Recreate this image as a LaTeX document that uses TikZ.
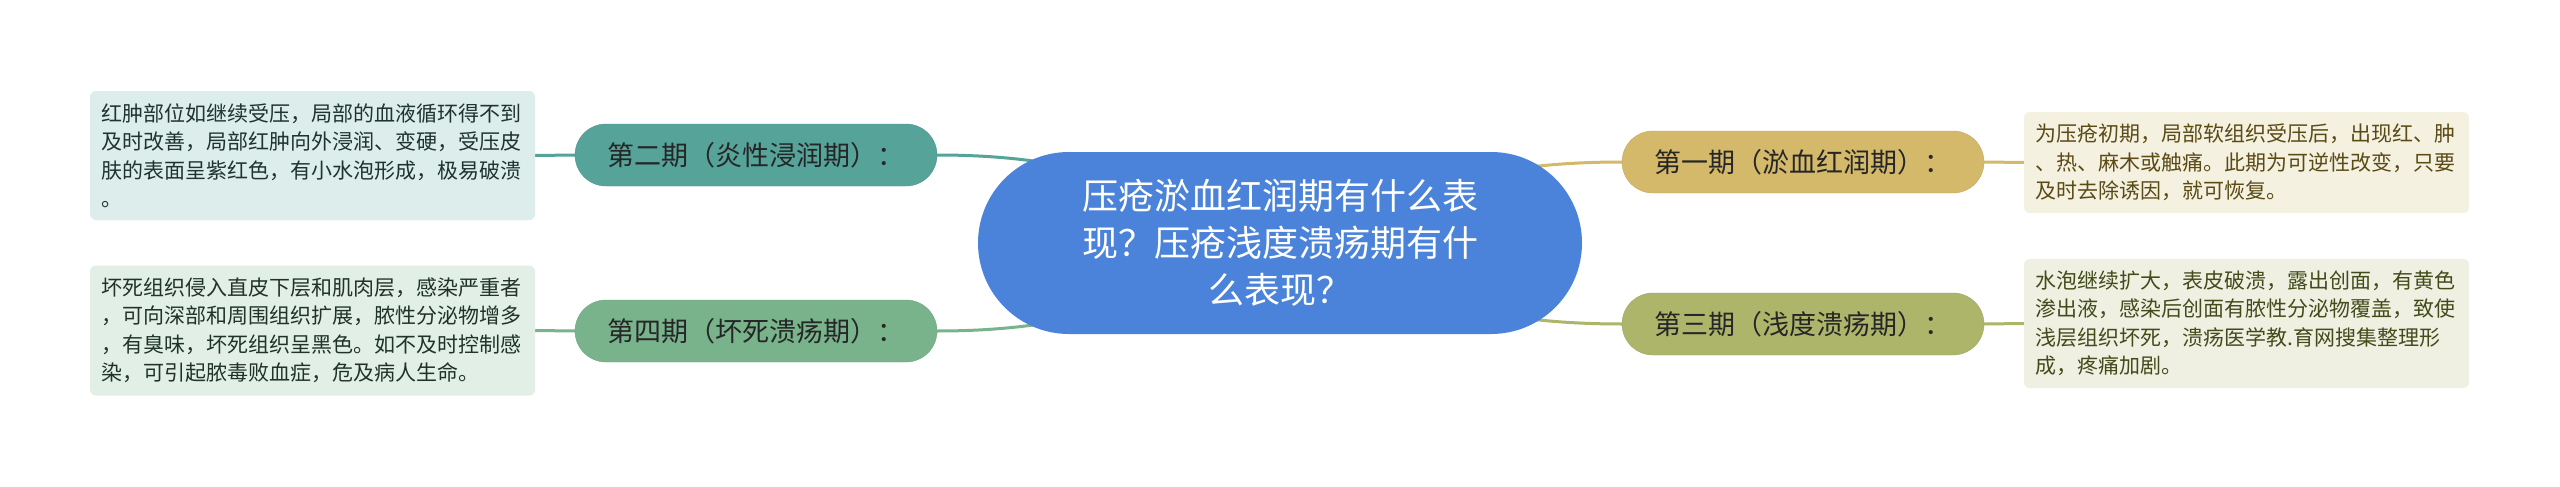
\documentclass[tikz,border=0pt]{standalone}
\usepackage{fontspec}
\setmainfont{Noto Sans CJK SC}
\definecolor{cblue}{HTML}{4B83DA}
\definecolor{ctwo}{HTML}{55A399}
\definecolor{cfour}{HTML}{79B38C}
\definecolor{cone}{HTML}{D4B96A}
\definecolor{cthree}{HTML}{ADB56B}
\definecolor{ltwo}{HTML}{DCEDEB}
\definecolor{lfour}{HTML}{E2EFE6}
\definecolor{lone}{HTML}{F5F1E1}
\definecolor{lthree}{HTML}{EFF0E2}
\definecolor{ttwo}{HTML}{1F332F}
\definecolor{tfour}{HTML}{1F332A}
\definecolor{tone}{HTML}{5A4A14}
\definecolor{tthree}{HTML}{434B1A}
\definecolor{phasetext}{HTML}{262626}
\pgfdeclarelayer{back}
\pgfdeclarelayer{bg}
\pgfsetlayers{back,bg,main}
\tikzset{
  leaf/.style={rectangle, rounded corners=6pt, align=left, text width=422pt,
    inner xsep=11.5pt, inner ysep=0pt, font=\fontsize{21}{28.5}\selectfont},
  phase/.style={rectangle, rounded corners=31pt, minimum width=362pt,
    minimum height=62pt, inner sep=0pt, text=phasetext,
    font=\fontsize{27}{30}\selectfont},
  centre/.style={rectangle, rounded corners=91pt, minimum width=604pt,
    minimum height=182pt, inner sep=0pt, fill=cblue, text=white, align=center,
    font=\fontsize{36}{47}\selectfont},
  conn/.style={line width=3pt},
}
\begin{document}
\begin{tikzpicture}[x=1pt,y=-1pt]
\begin{pgfonlayer}{back}
\fill[white] (0,0) rectangle (2560,487);
\end{pgfonlayer}
\useasboundingbox (0,0) rectangle (2560,487);

\node[centre] (c) at (1280,243) {压疮淤血红润期有什么表\\现？压疮浅度溃疡期有什\\么表现？};

\node[phase, fill=ctwo, draw=ctwo!92!black] (p2) at (756,155) {第二期（炎性浸润期）：};
\node[phase, fill=cfour, draw=cfour!92!black] (p4) at (756,331) {第四期（坏死溃疡期）：};
\node[phase, fill=cone, draw=cone!92!black] (p1) at (1803,162) {第一期（淤血红润期）：};
\node[phase, fill=cthree, draw=cthree!92!black] (p3) at (1803,324) {第三期（浅度溃疡期）：};

\node[leaf, fill=ltwo, text=ttwo, minimum height=129pt] (l2) at (312.5,155.5)
  {红肿部位如继续受压，局部的血液循环得不到\\及时改善，局部红肿向外浸润、变硬，受压皮\\肤的表面呈紫红色，有小水泡形成，极易破溃\\。};
\node[leaf, fill=lfour, text=tfour, minimum height=130pt] (l4) at (312.5,330.5)
  {坏死组织侵入直皮下层和肌肉层，感染严重者\\，可向深部和周围组织扩展，脓性分泌物增多\\，有臭味，坏死组织呈黑色。如不及时控制感\\染，可引起脓毒败血症，危及病人生命。};
\node[leaf, fill=lone, text=tone, minimum height=101pt] (l1) at (2246.5,162.5)
  {为压疮初期，局部软组织受压后，出现红、肿\\、热、麻木或触痛。此期为可逆性改变，只要\\及时去除诱因，就可恢复。};
\node[leaf, fill=lthree, text=tthree, minimum height=129pt] (l3) at (2246.5,323.5)
  {水泡继续扩大，表皮破溃，露出创面，有黄色\\渗出液，感染后创面有脓性分泌物覆盖，致使\\浅层组织坏死，溃疡医学教.育网搜集整理形\\成，疼痛加剧。};

\begin{pgfonlayer}{bg}
\draw[conn, ctwo] (p2.east) to[out=0,in=180,out distance=230pt,in distance=80pt] (c.center);
\draw[conn, cfour] (p4.east) to[out=0,in=180,out distance=230pt,in distance=80pt] (c.center);
\draw[conn, cone] (c.center) to[out=0,in=180,out distance=80pt,in distance=230pt] (p1.west);
\draw[conn, cthree] (c.center) to[out=0,in=180,out distance=80pt,in distance=230pt] (p3.west);
\draw[conn, ctwo] (p2.west) -- (l2.east);
\draw[conn, cfour] (p4.west) -- (l4.east);
\draw[conn, cone] (p1.east) -- (l1.west);
\draw[conn, cthree] (p3.east) -- (l3.west);
\end{pgfonlayer}
\end{tikzpicture}
\end{document}
